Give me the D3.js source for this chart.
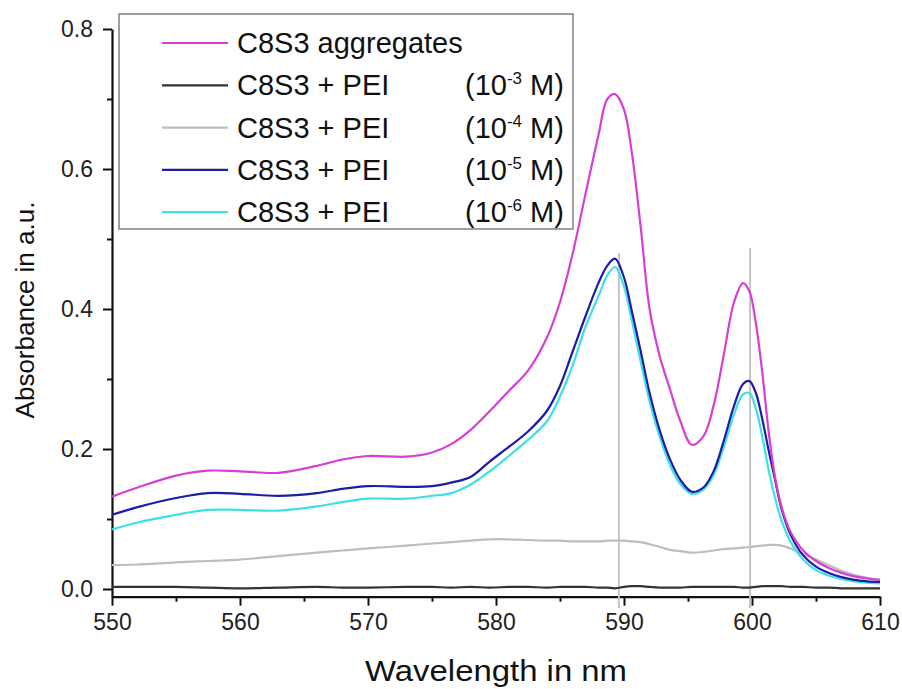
<!DOCTYPE html>
<html>
<head>
<meta charset="utf-8">
<script src="https://cdn.jsdelivr.net/npm/d3@7"></script>
<style>
  body { margin: 0; background: #fff; }
  svg { display: block; font-family: Arial, "Liberation Sans", sans-serif; }
</style>
</head>
<body>
<div id="chart"></div>
<script>
const width = 902;
const height = 689;

// wavelengths (nm) shared by all spectra
const wavelengths = [550, 552, 555, 557.5, 560, 563, 566, 568, 570, 573, 575, 576.5, 578, 579.5, 581, 582.5, 584, 585, 586, 587, 588, 588.7, 589.3, 590, 590.6, 591.3, 592, 592.8, 593.6, 594.4, 595.3, 596.2, 597, 597.8, 598.6, 599.3, 599.8, 600.3, 600.8, 601.3, 601.8, 602.3, 603, 604, 605, 606, 607, 608, 609, 610];

const aggregates = [0.132, 0.145, 0.162, 0.169, 0.168, 0.166, 0.176, 0.185, 0.190, 0.189, 0.195, 0.207, 0.227, 0.254, 0.283, 0.312, 0.360, 0.410, 0.480, 0.565, 0.648, 0.700, 0.707, 0.685, 0.625, 0.518, 0.400, 0.332, 0.285, 0.240, 0.206, 0.218, 0.262, 0.335, 0.410, 0.437, 0.425, 0.380, 0.310, 0.225, 0.160, 0.118, 0.082, 0.055, 0.040, 0.030, 0.023, 0.018, 0.015, 0.013];
const pei3 = [0.003, 0.003, 0.003, 0.002, 0.001, 0.002, 0.003, 0.002, 0.002, 0.003, 0.003, 0.002, 0.003, 0.002, 0.003, 0.003, 0.002, 0.003, 0.003, 0.003, 0.002, 0.002, 0.001, 0.003, 0.004, 0.004, 0.003, 0.002, 0.002, 0.002, 0.003, 0.003, 0.003, 0.003, 0.003, 0.002, 0.002, 0.003, 0.004, 0.004, 0.004, 0.004, 0.003, 0.003, 0.002, 0.002, 0.001, 0.001, 0.001, 0.001];
const pei4 = [0.034, 0.035, 0.038, 0.040, 0.042, 0.047, 0.052, 0.055, 0.058, 0.062, 0.065, 0.067, 0.069, 0.071, 0.071, 0.070, 0.069, 0.069, 0.068, 0.068, 0.068, 0.069, 0.069, 0.069, 0.068, 0.067, 0.064, 0.060, 0.056, 0.054, 0.052, 0.053, 0.055, 0.057, 0.058, 0.059, 0.060, 0.061, 0.062, 0.063, 0.063, 0.062, 0.058, 0.050, 0.042, 0.034, 0.026, 0.020, 0.016, 0.013];
const pei5 = [0.106, 0.117, 0.130, 0.137, 0.136, 0.133, 0.137, 0.143, 0.147, 0.146, 0.147, 0.152, 0.160, 0.182, 0.203, 0.225, 0.255, 0.290, 0.340, 0.390, 0.437, 0.462, 0.472, 0.445, 0.398, 0.340, 0.280, 0.226, 0.185, 0.156, 0.139, 0.145, 0.168, 0.212, 0.262, 0.293, 0.297, 0.280, 0.243, 0.198, 0.156, 0.115, 0.078, 0.048, 0.032, 0.023, 0.017, 0.013, 0.011, 0.010];
const pei6 = [0.085, 0.095, 0.106, 0.113, 0.113, 0.112, 0.118, 0.124, 0.129, 0.129, 0.133, 0.137, 0.149, 0.168, 0.190, 0.213, 0.240, 0.275, 0.320, 0.375, 0.418, 0.448, 0.460, 0.432, 0.385, 0.325, 0.268, 0.217, 0.177, 0.150, 0.136, 0.142, 0.163, 0.203, 0.250, 0.278, 0.280, 0.258, 0.218, 0.170, 0.130, 0.098, 0.068, 0.042, 0.027, 0.019, 0.014, 0.011, 0.009, 0.008];

const legendNames = ["C8S3 aggregates", "C8S3 + PEI", "C8S3 + PEI", "C8S3 + PEI", "C8S3 + PEI"];
const legendExponents = [null, "-3", "-4", "-5", "-6"];

// peak marker lines: wavelength and top value
const markerNm = [589.6, 599.85];
const markerTop = [0.48, 0.487];

const xMajor = [550, 560, 570, 580, 590, 600, 610];
const xMinor = [555, 565, 575, 585, 595, 605];
const yMajor = [0, 0.2, 0.4, 0.6, 0.8];
const yMinor = [0.1, 0.3, 0.5, 0.7];

const series = [
  { values: pei4, color: "#bdbdbd" },
  { values: pei3, color: "#333333" },
  { values: pei6, color: "#3ee0e0" },
  { values: pei5, color: "#1c1ca6" },
  { values: aggregates, color: "#d63fd6" }
];
const legendColors = ["#d63fd6", "#333333", "#bdbdbd", "#1c1ca6", "#3ee0e0"];

const x = d3.scaleLinear().domain([550, 610]).range([112, 880]);
const y = d3.scaleLinear().domain([-0.011, 0.8]).range([596.7, 29]);

const svg = d3.select("#chart").append("svg")
  .attr("width", width)
  .attr("height", height);

// axes
svg.append("g")
  .attr("transform", `translate(0,${y(-0.011)})`)
  .call(d3.axisBottom(x).tickValues(xMajor).tickSize(9).tickSizeOuter(0).tickPadding(8).tickFormat(d3.format("d")));
svg.append("g")
  .attr("transform", `translate(0,${y(-0.011)})`)
  .call(d3.axisBottom(x).tickValues(xMinor).tickSize(5).tickFormat(""))
  .call(g => g.select(".domain").remove());

svg.append("g")
  .attr("transform", `translate(${x(550)},0)`)
  .call(d3.axisLeft(y).tickValues(yMajor).tickSize(9).tickSizeOuter(0).tickPadding(10).tickFormat(d3.format(".1f")));
svg.append("g")
  .attr("transform", `translate(${x(550)},0)`)
  .call(d3.axisLeft(y).tickValues(yMinor).tickSize(5).tickFormat(""))
  .call(g => g.select(".domain").remove());

svg.selectAll(".domain").attr("stroke", "#111").attr("stroke-width", 2.2);
svg.selectAll(".tick line").attr("stroke", "#111").attr("stroke-width", 2);
svg.selectAll(".tick text").attr("font-size", 23).attr("fill", "#222")
  .attr("font-family", "Arial, 'Liberation Sans', sans-serif");

// axis titles
svg.append("text")
  .attr("x", 496)
  .attr("y", 681)
  .attr("text-anchor", "middle")
  .attr("font-size", 29)
  .attr("textLength", 262)
  .attr("lengthAdjust", "spacingAndGlyphs")
  .attr("fill", "#111")
  .text("Wavelength in nm");

svg.append("text")
  .attr("transform", "translate(34,310) rotate(-90)")
  .attr("text-anchor", "middle")
  .attr("font-size", 26)
  .attr("fill", "#111")
  .text("Absorbance in a.u.");

// peak marker lines
svg.selectAll("line.marker")
  .data(markerNm)
  .join("line")
  .attr("class", "marker")
  .attr("x1", d => x(d))
  .attr("x2", d => x(d))
  .attr("y1", (d, i) => y(markerTop[i]))
  .attr("y2", y(-0.027))
  .attr("stroke", "#c4c4c4")
  .attr("stroke-width", 2);

// spectra
const line = d3.line()
  .x((d, i) => x(wavelengths[i]))
  .y(d => y(d))
  .curve(d3.curveCatmullRom.alpha(0.5));

svg.selectAll("path.spectrum")
  .data(series)
  .join("path")
  .attr("class", "spectrum")
  .attr("d", d => line(d.values))
  .attr("fill", "none")
  .attr("stroke", d => d.color)
  .attr("stroke-width", 2.2);

// legend
const legend = svg.append("g");
legend.append("rect")
  .attr("x", 119).attr("y", 14)
  .attr("width", 454).attr("height", 215)
  .attr("fill", "#fff")
  .attr("stroke", "#808080")
  .attr("stroke-width", 1.5);

legendNames.forEach((name, i) => {
  const cy = 43 + i * 42.3;
  legend.append("line")
    .attr("x1", 162).attr("x2", 228)
    .attr("y1", cy).attr("y2", cy)
    .attr("stroke", legendColors[i])
    .attr("stroke-width", 2.2);
  legend.append("text")
    .attr("x", 237).attr("y", cy + 10)
    .attr("font-size", 29)
    .attr("fill", "#111")
    .text(name);
  if (legendExponents[i]) {
    const t = legend.append("text")
      .attr("x", 465).attr("y", cy + 10)
      .attr("font-size", 29)
      .attr("fill", "#111");
    t.append("tspan").text("(10");
    t.append("tspan").attr("dy", -11).attr("font-size", 17).text(legendExponents[i]);
    t.append("tspan").attr("dy", 11).text(" M)");
  }
});
</script>
</body>
</html>
